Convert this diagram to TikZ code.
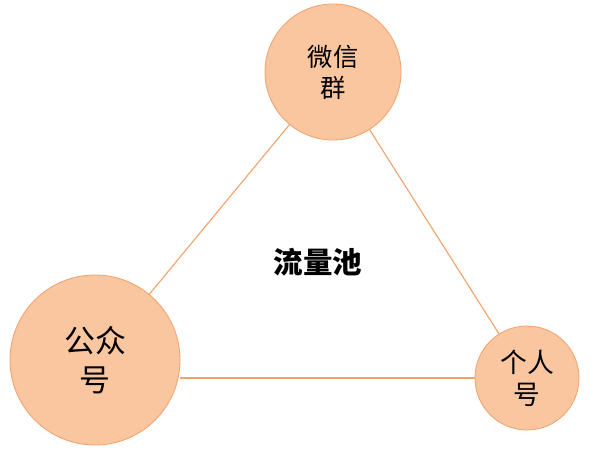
\documentclass[tikz,border=0pt]{standalone}
\usepackage{fontspec}
\newfontfamily\cjk{Noto Sans CJK SC}
\definecolor{peach}{HTML}{F9C6A0}
\definecolor{peachline}{HTML}{F2A36B}
\tikzset{circ/.style={circle,fill=peach,draw=peachline,line width=0.6pt,align=center,inner sep=0pt,font=\cjk},
link/.style={draw=peachline,line width=0.8pt}}
\begin{document}
\begin{tikzpicture}
\useasboundingbox (0,0) rectangle (15,-11.35);
\node[circ,minimum size=3.4cm,font=\cjk\fontsize{18}{22}\selectfont] (wx) at (8.325,-1.8) {微信\\群};
\node[circ,minimum size=4.25cm,font=\cjk\fontsize{22}{28}\selectfont] (gz) at (2.375,-9.0) {公众\\号};
\node[circ,minimum size=2.6cm,font=\cjk\fontsize{19}{23}\selectfont] (gr) at (13.175,-9.45) {个人\\号};
\node[font=\cjk\bfseries\fontsize{21}{25}\selectfont] (c) at (7.95,-6.55) {流量池};
\draw[link] (wx) -- (gz);
\draw[link] (wx) -- (gr);
\draw[link] (gz.east |- gr.west) -- (gr.west);
\end{tikzpicture}
\end{document}
